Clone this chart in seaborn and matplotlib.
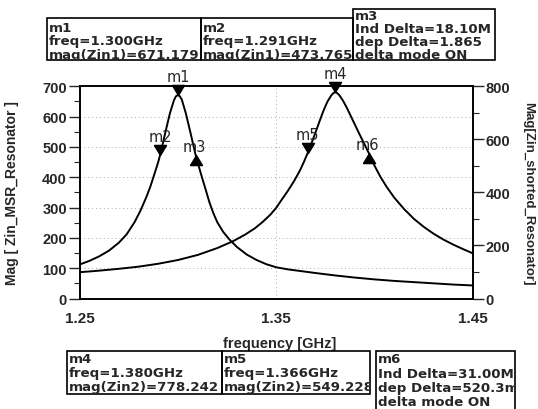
import matplotlib
matplotlib.use("Agg")
import matplotlib.pyplot as plt
import seaborn as sns
import pandas as pd
from matplotlib.patches import Rectangle
from matplotlib.ticker import MultipleLocator

# ---------------- data ----------------
freq_zin1 = [1.250, 1.255, 1.260, 1.265, 1.270, 1.274, 1.278, 1.281, 1.284, 1.286,
             1.288, 1.290, 1.291, 1.292, 1.294, 1.296, 1.298, 1.299, 1.300, 1.301,
             1.302, 1.304, 1.306, 1.308, 1.309, 1.310, 1.312, 1.314, 1.316, 1.318,
             1.320, 1.323, 1.326, 1.330, 1.335, 1.340, 1.345, 1.350, 1.356, 1.363,
             1.370, 1.380, 1.390, 1.400, 1.410, 1.420, 1.430, 1.440, 1.450]
mag_zin1 = [112, 124, 139, 158, 184, 212, 252, 290, 335, 369,
            409, 450, 474, 502, 558, 612, 654, 667, 671, 667,
            656, 612, 558, 502, 474, 450, 405, 362, 318, 282,
            252, 220, 196, 170, 145, 127, 113, 103, 96, 90,
            84, 76, 69, 63, 58, 54, 50, 46, 43]

freq_zin2 = [1.250, 1.260, 1.270, 1.280, 1.290, 1.300, 1.310, 1.320, 1.328, 1.334,
             1.339, 1.343, 1.347, 1.350, 1.353, 1.356, 1.359, 1.362, 1.364, 1.366,
             1.368, 1.370, 1.372, 1.374, 1.376, 1.378, 1.379, 1.380, 1.381, 1.382,
             1.384, 1.386, 1.388, 1.390, 1.392, 1.394, 1.397, 1.400, 1.403, 1.406,
             1.410, 1.415, 1.420, 1.425, 1.430, 1.435, 1.440, 1.445, 1.450]
mag_zin2 = [99, 105, 112, 120, 131, 145, 164, 190, 216, 240,
            264, 288, 316, 342, 375, 407, 442, 482, 514, 549,
            587, 627, 668, 708, 742, 766, 774, 778, 774, 767,
            745, 717, 686, 655, 624, 594, 549, 500, 458, 422,
            380, 337, 300, 270, 244, 222, 203, 186, 170]

# markers: name, freq, value, axis, direction
marker_names = ["m1", "m2", "m3", "m4", "m5", "m6"]
marker_freq = [1.300, 1.291, 1.3091, 1.380, 1.366, 1.397]
marker_vals = [671.17, 473.76, 474.0, 778.24, 549.22, 549.0]
marker_axis = ["left", "left", "left", "right", "right", "right"]
marker_dir = ["down", "down", "up", "down", "down", "up"]

x_ticks = [1.25, 1.35, 1.45]
left_ticks = [0, 100, 200, 300, 400, 500, 600, 700]
right_ticks = [0, 200, 400, 600, 800]

box_texts = [
    ["m1", "freq=1.300GHz", "mag(Zin1)=671.179"],
    ["m2", "freq=1.291GHz", "mag(Zin1)=473.765"],
    ["m3", "Ind Delta=18.10M", "dep Delta=1.865", "delta mode ON"],
    ["m4", "freq=1.380GHz", "mag(Zin2)=778.242"],
    ["m5", "freq=1.366GHz", "mag(Zin2)=549.228"],
    ["m6", "Ind Delta=31.00M", "dep Delta=520.3m", "delta mode ON"],
]

# ---------------- figure ----------------
sns.set_style("white")
plt.rcParams["font.family"] = ["Liberation Sans", "DejaVu Sans"]

W, H = 538, 410
fig = plt.figure(figsize=(W / 100, H / 100), dpi=100)
L, R, T, B = 79.5, 473, 87.3, 299.5
ax = fig.add_axes([L / W, 1 - B / H, (R - L) / W, (B - T) / H])
ax2 = ax.twinx()

df1 = pd.DataFrame({"f": freq_zin1, "m": mag_zin1})
df2 = pd.DataFrame({"f": freq_zin2, "m": mag_zin2})
sns.lineplot(data=df1, x="f", y="m", ax=ax, color="black", lw=1.4, sort=True)
sns.lineplot(data=df2, x="f", y="m", ax=ax2, color="black", lw=1.4, sort=True)

ax.set_xlim(1.25, 1.45)
ax.set_ylim(0, 700)
ax2.set_ylim(0, 800)

ax.set_xticks(x_ticks)
ax.set_xticklabels([f"{v:.2f}" for v in x_ticks], fontsize=11, fontweight="bold")
ax.xaxis.set_minor_locator(MultipleLocator(0.01))
ax.set_yticks(left_ticks)
ax.set_yticklabels([str(v) for v in left_ticks], fontsize=10.5, fontweight="bold")
ax.yaxis.set_minor_locator(MultipleLocator(50))
ax2.set_yticks(right_ticks)
ax2.set_yticklabels([str(v) for v in right_ticks], fontsize=10.5, fontweight="bold")
ax2.yaxis.set_minor_locator(MultipleLocator(100))

ax.tick_params(axis="x", which="major", direction="out", length=6, width=1, pad=3)
ax.tick_params(axis="x", which="minor", direction="in", length=4, width=0.8)
ax.tick_params(axis="y", which="major", direction="out", length=8, width=1, pad=1)
ax.tick_params(axis="y", which="minor", direction="out", length=4, width=0.8)
ax2.tick_params(axis="y", which="major", direction="out", length=8, width=1, pad=1)
ax2.tick_params(axis="y", which="minor", direction="out", length=4, width=0.8)

for a in (ax, ax2):
    for s in a.spines.values():
        s.set_color("black")
        s.set_linewidth(1.2)

# faint dotted grid
for v in left_ticks[1:-1]:
    ax.axhline(v, color="#aaaaaa", lw=0.7, ls=(0, (1, 3)), zorder=0)
ax.axvline(1.35, color="#aaaaaa", lw=0.7, ls=(0, (1, 3)), zorder=0)

ax.set_xlabel("frequency [GHz]", fontsize=10.5, fontweight="bold")
ax.xaxis.set_label_coords(0.51, -0.175)
ax.set_ylabel("Mag [ Zin_MSR_Resonator ]", fontsize=10, fontweight="bold")
ax.yaxis.set_label_coords(-0.155, 0.5)
ax2.set_ylabel("Mag[Zin_shorted_Resonator]", fontsize=9.5, fontweight="bold",
               rotation=270, va="center",
               family=["Liberation Sans Narrow", "Liberation Sans"])
ax2.yaxis.set_label_coords(1.14, 0.5)

# markers with tip at the data point
down_tri = [(-0.6, 1), (0.6, 1), (0, 0), (-0.6, 1)]
up_tri = [(-0.6, -1), (0.6, -1), (0, 0), (-0.6, -1)]
for name, fq, v, axn, d in zip(marker_names, marker_freq, marker_vals, marker_axis, marker_dir):
    a = ax if axn == "left" else ax2
    mk = down_tri if d == "down" else up_tri
    a.plot([fq], [v], marker=mk, ms=14.5, color="black", ls="none", clip_on=False, zorder=5)
    off = (0, 13.5) if d == "down" else (-1, 6)
    a.annotate(name, (fq, v), xytext=off, textcoords="offset points",
               ha="center", va="center", fontsize=10.5, family="DejaVu Sans",
               annotation_clip=False)

# marker readout boxes (pixel coords, y from top)
box_geom = [
    (47, 19, 201, 61),
    (201, 19, 353, 61),
    (353, 10, 495, 61),
    (67, 352, 222, 395),
    (222, 352, 370, 395),
    (376, 352, 515, 412),
]
line_y0 = [28, 28, 16.5, 360, 360, 360]
line_step = [13.5, 13.5, 13, 14, 14, 14.3]
for (x0, y0, x1, y1), lines, ly, st in zip(box_geom, box_texts, line_y0, line_step):
    rect = Rectangle((x0 / W, 1 - y1 / H), (x1 - x0) / W, (y1 - y0) / H,
                     transform=fig.transFigure, fill=False, ec="black", lw=1.2)
    fig.patches.append(rect)
    clip = Rectangle((x0 / W, 1 - y1 / H), (x1 - x0 - 1) / W, (y1 - y0) / H,
                     transform=fig.transFigure, visible=False)
    fig.patches.append(clip)
    for i, t in enumerate(lines):
        txt = fig.text((x0 + 2) / W, 1 - (ly + i * st) / H, t, ha="left", va="center",
                       fontsize=9.6, fontweight="bold", family="DejaVu Sans")
        txt.set_clip_path(clip)

fig.savefig("out.png", dpi=100, facecolor="white")
